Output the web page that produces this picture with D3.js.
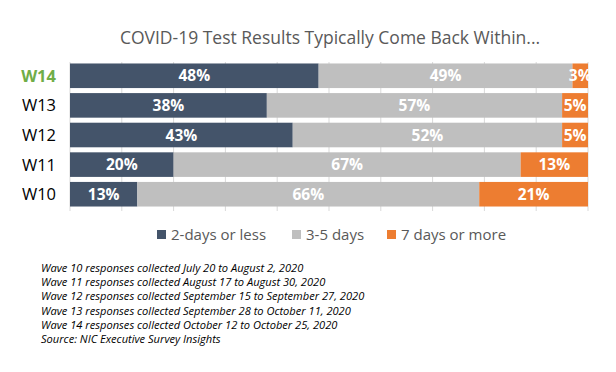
<!DOCTYPE html>
<html>
<head>
<meta charset="utf-8">
<script src="https://cdn.jsdelivr.net/npm/d3@7"></script>
<style>
  body { margin: 0; background: #fff; }
  svg text { font-family: "Open Sans", "Liberation Sans", sans-serif; }
</style>
</head>
<body>
<script>
// waves, top to bottom
var waves = ["W14", "W13", "W12", "W11", "W10"];
var twoDays = [48, 38, 43, 20, 13];
var threeFive = [49, 57, 52, 67, 66];
var sevenPlus = [3, 5, 5, 13, 21];
var seriesNames = ["2-days or less", "3-5 days", "7 days or more"];
var colors = ["#44546A", "#BFBFBF", "#ED7D31"];
var notes = [
  "Wave 10 responses collected July 20 to August 2, 2020",
  "Wave 11 responses collected August 17 to August 30, 2020",
  "Wave 12 responses collected September 15 to September 27, 2020",
  "Wave 13 responses collected September 28 to October 11, 2020",
  "Wave 14 responses collected October 12 to October 25, 2020",
  "Source: NIC Executive Survey Insights"
];

var w = 616, h = 372;
var margin = { left: 70, right: 28, top: 62, bottom: 164 };

var svg = d3.select("body").append("svg")
  .attr("width", w)
  .attr("height", h);

// build stacked rows
var rows = waves.map(function(wv, i) {
  return { wave: wv, values: [twoDays[i], threeFive[i], sevenPlus[i]] };
});
var stack = d3.stack().keys([0, 1, 2]).value(function(d, k) { return d.values[k]; });
var layers = stack(rows);

var xScale = d3.scaleLinear().domain([0, 100]).range([margin.left, w - margin.right]);
var yScale = d3.scaleBand().domain(waves).range([margin.top, h - margin.bottom]).paddingInner(0.17).paddingOuter(0.05);

// title
svg.append("text")
  .attr("x", 330)
  .attr("y", 44)
  .attr("text-anchor", "middle")
  .attr("font-size", 17.5)
  .attr("fill", "#595959")
  .text("COVID-19 Test Results Typically Come Back Within...");

// gridlines
svg.append("g")
  .selectAll("line")
  .data(d3.range(0, 101, 10))
  .enter()
  .append("line")
  .attr("x1", function(d) { return xScale(d); })
  .attr("x2", function(d) { return xScale(d); })
  .attr("y1", margin.top)
  .attr("y2", h - margin.bottom + 3)
  .attr("stroke", "#D9D9D9")
  .attr("stroke-width", 1);

// bars
var layerG = svg.selectAll(".layer")
  .data(layers)
  .enter()
  .append("g")
  .attr("fill", function(d, i) { return colors[i]; });

layerG.selectAll("rect")
  .data(function(d) { return d; })
  .enter()
  .append("rect")
  .attr("x", function(d) { return xScale(d[0]); })
  .attr("y", function(d) { return yScale(d.data.wave); })
  .attr("width", function(d) { return xScale(d[1]) - xScale(d[0]); })
  .attr("height", yScale.bandwidth());

// labels in segments
layerG.selectAll("text")
  .data(function(d) { return d; })
  .enter()
  .append("text")
  .attr("x", function(d) { return (xScale(d[0]) + xScale(d[1])) / 2; })
  .attr("y", function(d) { return yScale(d.data.wave) + yScale.bandwidth() / 2; })
  .attr("dy", "0.36em")
  .attr("text-anchor", "middle")
  .attr("font-size", 15.5)
  .attr("font-weight", "bold")
  .attr("fill", "#fff")
  .text(function(d) { return (d[1] - d[0]) + "%"; });

// y axis labels
svg.append("g")
  .selectAll("text")
  .data(waves)
  .enter()
  .append("text")
  .attr("x", 56)
  .attr("y", function(d) { return yScale(d) + yScale.bandwidth() / 2; })
  .attr("dy", "0.36em")
  .attr("text-anchor", "end")
  .attr("font-size", 16.5)
  .attr("font-weight", function(d, i) { return i === 0 ? "bold" : "normal"; })
  .attr("fill", function(d, i) { return i === 0 ? "#70AD47" : "#000"; })
  .text(function(d) { return d; });

// legend
var legendX = [157, 292, 387];
var legend = svg.append("g");
seriesNames.forEach(function(name, i) {
  legend.append("rect")
    .attr("x", legendX[i])
    .attr("y", 230)
    .attr("width", 9)
    .attr("height", 9)
    .attr("fill", colors[i]);
  legend.append("text")
    .attr("x", legendX[i] + 14)
    .attr("y", 235)
    .attr("dy", "0.36em")
    .attr("font-size", 15)
    .attr("fill", "#595959")
    .text(name);
});

// footnotes
svg.append("g")
  .selectAll("text")
  .data(notes)
  .enter()
  .append("text")
  .attr("x", 41)
  .attr("y", function(d, i) { return 272 + i * 14.2; })
  .attr("font-size", 11.1)
  .attr("font-style", "italic")
  .attr("fill", "#000")
  .text(function(d) { return d; });
</script>
</body>
</html>
